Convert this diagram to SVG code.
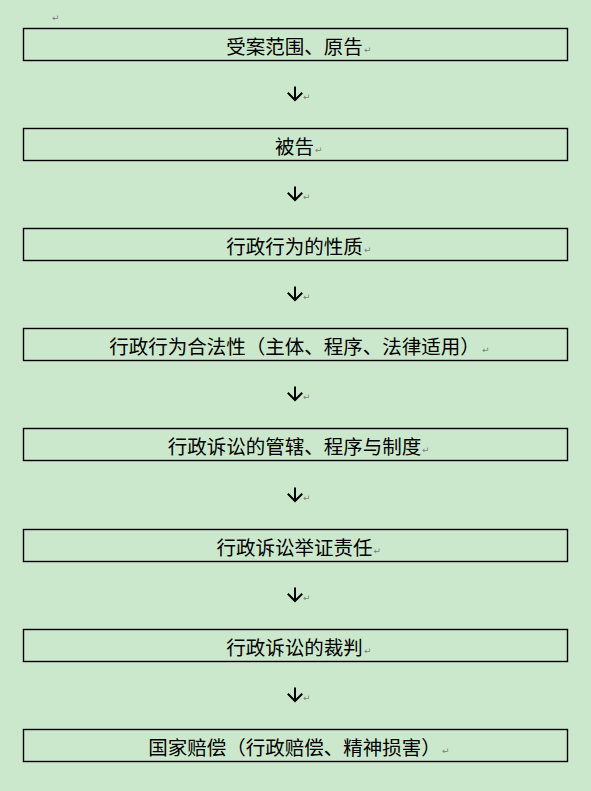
<svg xmlns="http://www.w3.org/2000/svg" width="591" height="791" viewBox="0 0 591 791">
<style>
.bg{fill:#cce8cc}
.box{fill:#cce8cc;stroke:#000;stroke-width:1.4}
.t{font-family:"Noto Sans CJK SC","Noto Sans",sans-serif;font-size:19.5px;fill:#000;text-anchor:middle}
.m{font-family:"DejaVu Sans",sans-serif;font-size:9px;fill:#808080}
.c{fill:none;stroke:#000;stroke-width:2;stroke-linecap:square;stroke-linejoin:miter}
</style>
<defs>
<path id="arr" class="c" d="M0,-6.5V5.5M-6.5,-0.5L0,6L6.5,-0.5"/>
</defs>
<rect class="bg" x="0" y="0" width="591" height="791"/>
<text class="m" x="52" y="21">↵</text>
<g id="n1"><rect class="box" x="23.5" y="28.5" width="544" height="32"/><text class="t" x="294.5" y="54">受案范围、原告</text><text class="m" x="364" y="53">↵</text></g>
<g id="n2"><rect class="box" x="23.5" y="128.5" width="544" height="32"/><text class="t" x="294.5" y="154">被告</text><text class="m" x="315" y="153">↵</text></g>
<g id="n3"><rect class="box" x="23.5" y="228.5" width="544" height="32"/><text class="t" x="294.5" y="254">行政行为的性质</text><text class="m" x="364" y="253">↵</text></g>
<g id="n4"><rect class="box" x="23.5" y="328.5" width="544" height="32"/><text class="t" x="294.5" y="354">行政行为合法性（主体、程序、法律适用）</text><text class="m" x="482" y="353">↵</text></g>
<g id="n5"><rect class="box" x="23.5" y="428.5" width="544" height="32"/><text class="t" x="294.5" y="454">行政诉讼的管辖、程序与制度</text><text class="m" x="422" y="453">↵</text></g>
<g id="n6"><rect class="box" x="23.5" y="529.5" width="544" height="32"/><text class="t" x="294.5" y="555">行政诉讼举证责任</text><text class="m" x="373.5" y="554">↵</text></g>
<g id="n7"><rect class="box" x="23.5" y="629.5" width="544" height="32"/><text class="t" x="294.5" y="655">行政诉讼的裁判</text><text class="m" x="364" y="654">↵</text></g>
<g id="n8"><rect class="box" x="23.5" y="729.5" width="544" height="32"/><text class="t" x="294.5" y="755">国家赔偿（行政赔偿、精神损害）</text><text class="m" x="442" y="754">↵</text></g>
<g id="connectors">
<use href="#arr" x="295" y="94"/><text class="m" x="303" y="100">↵</text>
<use href="#arr" x="295" y="194"/><text class="m" x="303" y="200">↵</text>
<use href="#arr" x="295" y="294"/><text class="m" x="303" y="300">↵</text>
<use href="#arr" x="295" y="394"/><text class="m" x="303" y="400">↵</text>
<use href="#arr" x="295" y="495"/><text class="m" x="303" y="501">↵</text>
<use href="#arr" x="295" y="595"/><text class="m" x="303" y="601">↵</text>
<use href="#arr" x="295" y="695"/><text class="m" x="303" y="701">↵</text>
</g>
</svg>
